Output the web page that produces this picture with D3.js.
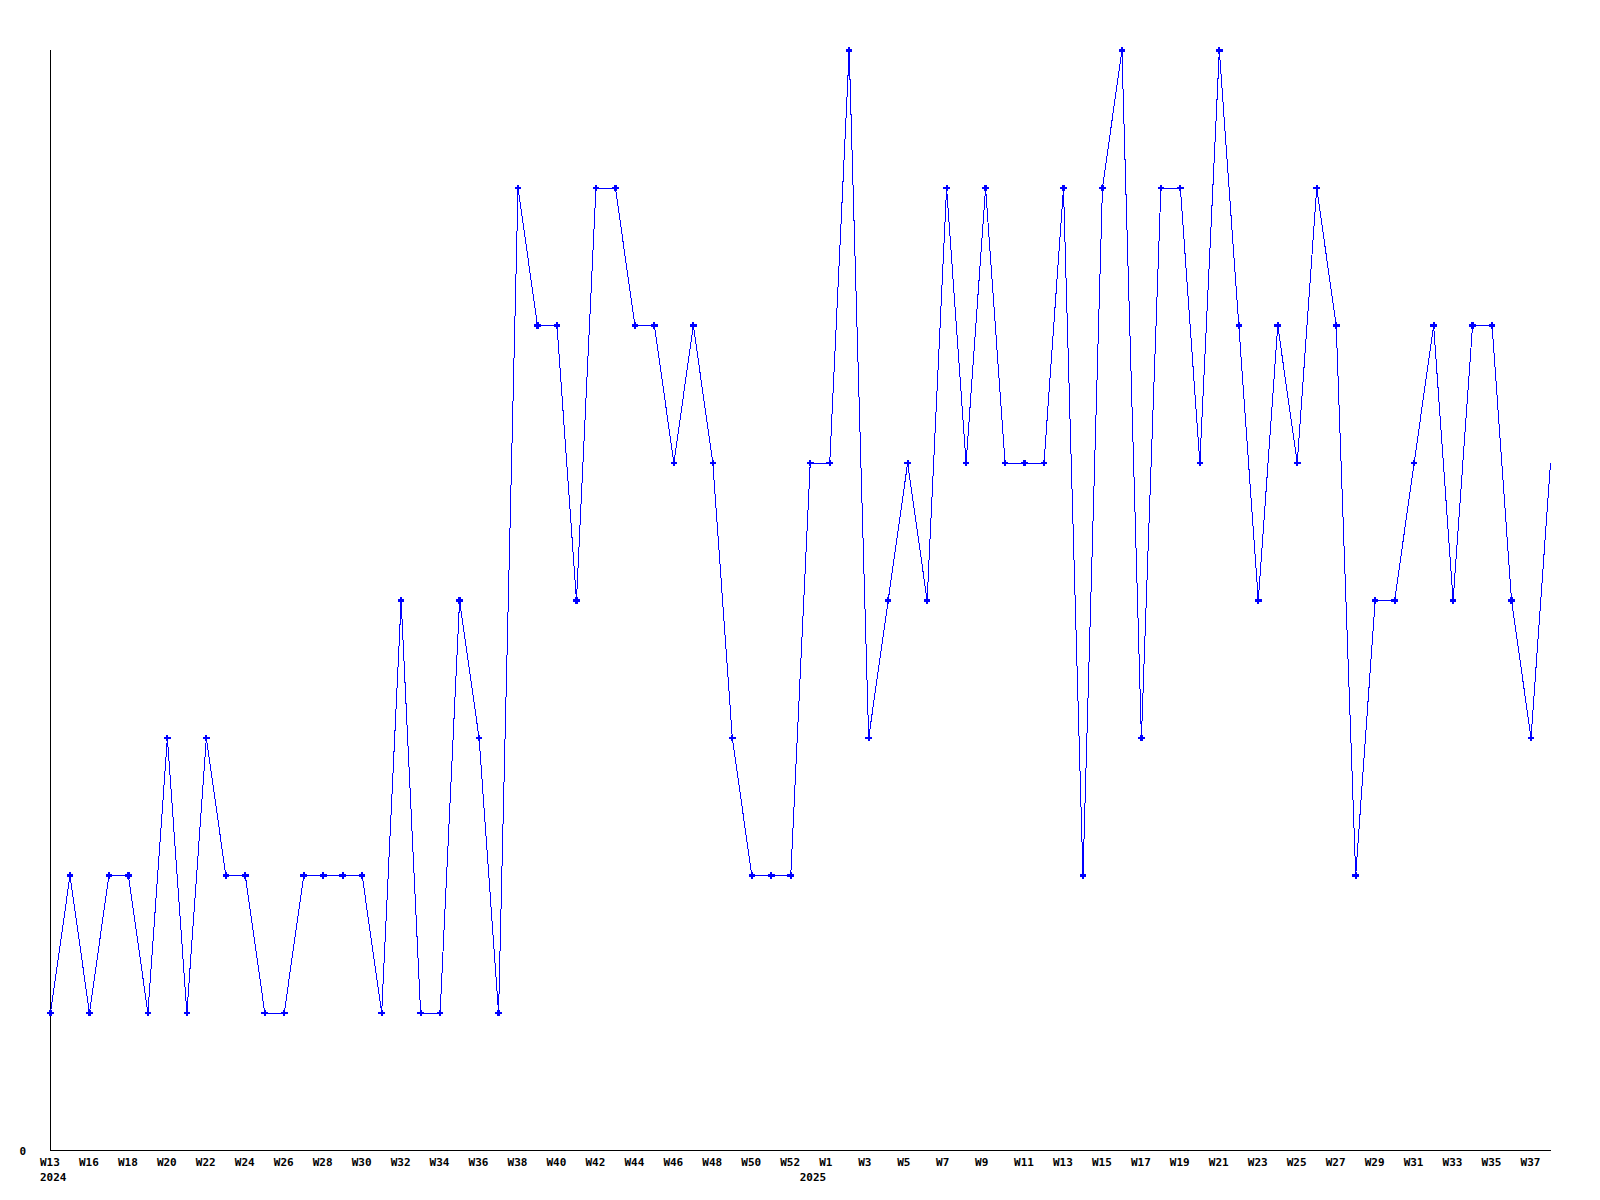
<!DOCTYPE html>
<html>
<head>
<meta charset="utf-8">
<script src="https://cdn.jsdelivr.net/npm/d3@7"></script>
<style>
  body { margin: 0; background: #fff; }
  text { font-family: "DejaVu Sans Mono", "Liberation Mono", monospace; font-weight: bold; font-size: 11px; fill: #000; }
</style>
</head>
<body>
<div id="chart"></div>
<script>
// weekly counts, one per week from W13 2024
const values = [1, 2, 1, 2, 2, 1, 3, 1, 3, 2,
                2, 1, 1, 2, 2, 2, 2, 1, 4, 1,
                1, 4, 3, 1, 7, 6, 6, 4, 7, 7,
                6, 6, 5, 6, 5, 3, 2, 2, 2, 5,
                5, 8, 3, 4, 5, 4, 7, 5, 7, 5,
                5, 5, 7, 2, 7, 8, 3, 7, 7, 5,
                8, 6, 4, 6, 5, 7, 6, 2, 4, 4,
                5, 6, 4, 6, 6, 4, 3, 5]

// x tick labels and the week (point index) they sit on
const tickLabels = ["W13", "W16", "W18", "W20", "W22", "W24", "W26", "W28", "W30", "W32",
                    "W34", "W36", "W38", "W40", "W42", "W44", "W46", "W48", "W50", "W52",
                    "W1", "W3", "W5", "W7", "W9", "W11", "W13", "W15", "W17", "W19",
                    "W21", "W23", "W25", "W27", "W29", "W31", "W33", "W35", "W37"]
const tickWeeks = [0, 2, 4, 6, 8, 10, 12, 14, 16, 18,
                   20, 22, 24, 26, 28, 30, 32, 34, 36, 38,
                   40, 42, 44, 46, 48, 50, 52, 54, 56, 58,
                   60, 62, 64, 66, 68, 70, 72, 74, 76]
const yearLabels = ["2024", "2025"]
const yearWeeks = [0, 39]

const width = 1600
const height = 1200
const padLeft = 50, plotRight = 1550, plotTop = 50, plotBottom = 1150

const svg = d3.select("#chart").append("svg")
  .attr("width", width)
  .attr("height", height)

const xScale = d3.scaleLinear()
  .domain([0, values.length - 1])
  .range([padLeft, plotRight])

const yScale = d3.scaleLinear()
  .domain([0, 8])
  .range([plotBottom, plotTop])

// axes, plain lines only
svg.append("line")
  .attr("x1", padLeft + 0.5).attr("x2", padLeft + 0.5)
  .attr("y1", plotTop).attr("y2", plotBottom + 0.5)
  .attr("stroke", "#000")
  .attr("shape-rendering", "crispEdges")

svg.append("line")
  .attr("x1", padLeft).attr("x2", plotRight + 1)
  .attr("y1", plotBottom + 0.5).attr("y2", plotBottom + 0.5)
  .attr("stroke", "#000")
  .attr("shape-rendering", "crispEdges")

svg.append("text")
  .text("0")
  .attr("x", 26)
  .attr("y", yScale(0) + 5)
  .attr("text-anchor", "end")

svg.append("g").selectAll("text")
  .data(tickLabels).enter().append("text")
    .text(d => d)
    .attr("x", (d, i) => xScale(tickWeeks[i]) - 10)
    .attr("y", plotBottom + 16)

svg.append("g").selectAll("text")
  .data(yearLabels).enter().append("text")
    .text(d => d)
    .attr("x", (d, i) => xScale(yearWeeks[i]) - 10)
    .attr("y", plotBottom + 31)

// the series
const line = d3.line()
  .x((d, i) => xScale(i) + 0.5)
  .y(d => yScale(d) + 0.5)

svg.append("path")
  .datum(values)
  .attr("d", line)
  .attr("fill", "none")
  .attr("stroke", "#0000ff")
  .attr("stroke-width", 1)
  .attr("shape-rendering", "crispEdges")

const marker = d3.symbol().type(d3.symbolCross).size(24)

svg.append("g").selectAll("path")
  .data(values.slice(0, -1)).enter().append("path")
    .attr("d", marker)
    .attr("transform", (d, i) => "translate(" + (xScale(i) + 0.5) + "," + (yScale(d) + 0.5) + ")")
    .attr("fill", "#0000ff")
    .attr("shape-rendering", "crispEdges")
</script>
</body>
</html>
